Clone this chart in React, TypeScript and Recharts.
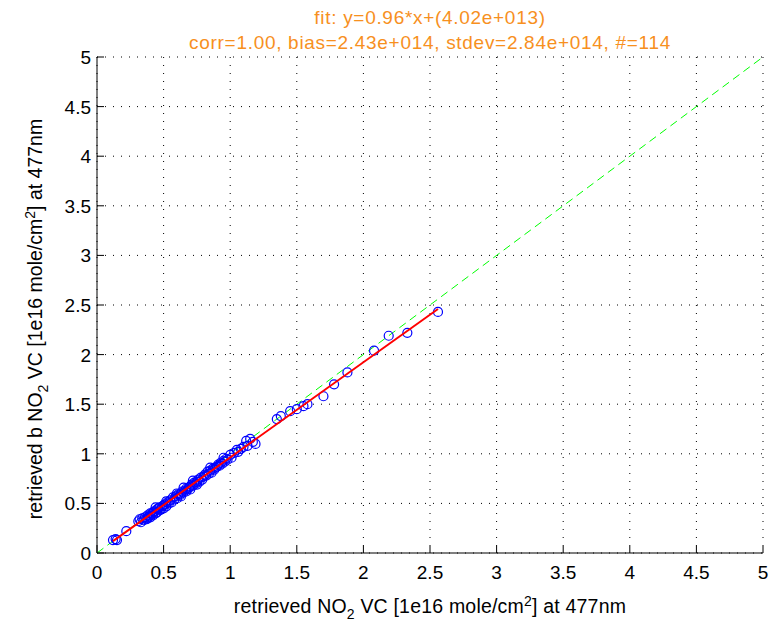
import { ScatterChart, Scatter, XAxis, YAxis, CartesianGrid, Label } from "recharts";

const ticks = [0, 0.5, 1, 1.5, 2, 2.5, 3, 3.5, 4, 4.5, 5];

const fitText = "fit: y=0.96*x+(4.02e+013)";
const statsText = "corr=1.00, bias=2.43e+014, stdev=2.84e+014, #=114";

// retrieved NO2 VC (x) vs retrieved b NO2 VC (y), in 1e16 mole/cm2
const points = [
  { x: 0.12, y: 0.13 }, { x: 0.14, y: 0.14 }, { x: 0.15, y: 0.13 }, { x: 0.22, y: 0.22 },
  { x: 0.31, y: 0.32 }, { x: 0.32, y: 0.34 }, { x: 0.33, y: 0.31 }, { x: 0.34, y: 0.35 },
  { x: 0.35, y: 0.33 }, { x: 0.36, y: 0.36 }, { x: 0.37, y: 0.34 }, { x: 0.38, y: 0.38 },
  { x: 0.38, y: 0.35 }, { x: 0.39, y: 0.37 }, { x: 0.4, y: 0.4 }, { x: 0.4, y: 0.36 },
  { x: 0.41, y: 0.39 }, { x: 0.42, y: 0.41 }, { x: 0.42, y: 0.38 }, { x: 0.43, y: 0.42 },
  { x: 0.44, y: 0.4 }, { x: 0.45, y: 0.44 }, { x: 0.45, y: 0.41 }, { x: 0.46, y: 0.45 },
  { x: 0.47, y: 0.43 }, { x: 0.47, y: 0.46 }, { x: 0.48, y: 0.44 }, { x: 0.49, y: 0.47 },
  { x: 0.5, y: 0.48 }, { x: 0.5, y: 0.45 }, { x: 0.51, y: 0.49 }, { x: 0.52, y: 0.47 },
  { x: 0.53, y: 0.51 }, { x: 0.54, y: 0.5 }, { x: 0.55, y: 0.53 }, { x: 0.56, y: 0.51 },
  { x: 0.57, y: 0.56 }, { x: 0.58, y: 0.54 }, { x: 0.59, y: 0.57 }, { x: 0.6, y: 0.55 },
  { x: 0.61, y: 0.59 }, { x: 0.62, y: 0.58 }, { x: 0.63, y: 0.6 }, { x: 0.63, y: 0.57 },
  { x: 0.64, y: 0.62 }, { x: 0.65, y: 0.61 }, { x: 0.66, y: 0.63 }, { x: 0.67, y: 0.62 },
  { x: 0.67, y: 0.65 }, { x: 0.68, y: 0.64 }, { x: 0.69, y: 0.66 }, { x: 0.7, y: 0.67 },
  { x: 0.7, y: 0.64 }, { x: 0.71, y: 0.69 }, { x: 0.72, y: 0.68 }, { x: 0.73, y: 0.71 },
  { x: 0.74, y: 0.7 }, { x: 0.75, y: 0.72 }, { x: 0.75, y: 0.69 }, { x: 0.76, y: 0.74 },
  { x: 0.77, y: 0.72 }, { x: 0.78, y: 0.76 }, { x: 0.79, y: 0.74 }, { x: 0.8, y: 0.77 },
  { x: 0.81, y: 0.79 }, { x: 0.82, y: 0.78 }, { x: 0.83, y: 0.82 }, { x: 0.84, y: 0.8 },
  { x: 0.85, y: 0.83 }, { x: 0.86, y: 0.81 }, { x: 0.87, y: 0.85 }, { x: 0.88, y: 0.84 },
  { x: 0.89, y: 0.86 }, { x: 0.9, y: 0.87 }, { x: 0.91, y: 0.89 }, { x: 0.92, y: 0.88 },
  { x: 0.93, y: 0.91 }, { x: 0.94, y: 0.9 }, { x: 0.95, y: 0.93 }, { x: 0.96, y: 0.92 },
  { x: 0.97, y: 0.95 }, { x: 0.98, y: 0.94 }, { x: 1.0, y: 0.99 }, { x: 1.01, y: 0.96 },
  { x: 1.03, y: 1.01 }, { x: 1.05, y: 1.04 }, { x: 1.06, y: 1.02 }, { x: 1.08, y: 1.05 },
  { x: 1.1, y: 1.07 }, { x: 1.12, y: 1.13 }, { x: 1.13, y: 1.08 }, { x: 1.15, y: 1.15 },
  { x: 1.17, y: 1.12 }, { x: 1.19, y: 1.1 }, { x: 1.35, y: 1.35 }, { x: 1.38, y: 1.38 },
  { x: 1.45, y: 1.43 }, { x: 1.5, y: 1.45 }, { x: 1.55, y: 1.48 }, { x: 1.58, y: 1.5 },
  { x: 1.7, y: 1.58 }, { x: 1.78, y: 1.7 }, { x: 1.88, y: 1.82 }, { x: 2.08, y: 2.04 },
  { x: 2.19, y: 2.19 }, { x: 2.33, y: 2.22 }, { x: 2.56, y: 2.43 }, { x: 0.44, y: 0.46 },
  { x: 0.52, y: 0.52 }, { x: 0.6, y: 0.6 }, { x: 0.72, y: 0.73 }, { x: 0.85, y: 0.86 },
  { x: 0.95, y: 0.96 }, { x: 0.65, y: 0.66 },
];

const fitLine = [
  { x: 0.12, y: 0.12 },
  { x: 2.56, y: 2.46 },
];

const oneToOne = [
  { x: 0, y: 0 },
  { x: 5, y: 5 },
];

const font = "'Liberation Sans', Arial, sans-serif";
const TICK_LEN = 7;

const Ring = (props: any) => (
  <circle cx={props.cx} cy={props.cy} r={4.5} fill="none" stroke="#0000ff" strokeWidth={1.2} />
);

const BottomTick = ({ x, y, payload }: any) => (
  <g>
    <line x1={x} x2={x} y1={y} y2={y - TICK_LEN} stroke="#000" />
    <text x={x} y={y + 26} textAnchor="middle" fontSize={19} fontFamily={font} fill="#000">
      {payload.value}
    </text>
  </g>
);

const TopTick = ({ x, y }: any) => <line x1={x} x2={x} y1={y} y2={y + TICK_LEN} stroke="#000" />;

const LeftTick = ({ x, y, payload }: any) => (
  <g>
    <line x1={x} x2={x + TICK_LEN} y1={y} y2={y} stroke="#000" />
    <text x={x - 6} y={y + 7} textAnchor="end" fontSize={19} fontFamily={font} fill="#000">
      {payload.value}
    </text>
  </g>
);

const RightTick = ({ x, y }: any) => <line x1={x} x2={x - TICK_LEN} y1={y} y2={y} stroke="#000" />;

const XTitle = (props: any) => {
  const { viewBox } = props;
  const cx = viewBox.x + viewBox.width / 2;
  return (
    <text x={cx} y={613} textAnchor="middle" fontSize={19.5} fontFamily={font} fill="#000" letterSpacing={0.2}>
      retrieved NO<tspan dy={6} fontSize={14}>2</tspan>
      <tspan dy={-6}> VC [1e16 mole/cm</tspan>
      <tspan dy={-7} fontSize={14}>2</tspan>
      <tspan dy={7}>] at 477nm</tspan>
    </text>
  );
};

const YTitle = (props: any) => {
  const { viewBox } = props;
  const cy = viewBox.y + viewBox.height / 2 + 14;
  const x = 42;
  return (
    <text x={x} y={cy} textAnchor="middle" fontSize={19.5} fontFamily={font} fill="#000" transform={`rotate(-90 ${x} ${cy})`}>
      retrieved b NO<tspan dy={6} fontSize={14}>2</tspan>
      <tspan dy={-6}> VC [1e16 mole/cm</tspan>
      <tspan dy={-7} fontSize={14}>2</tspan>
      <tspan dy={7}>] at 477nm</tspan>
    </text>
  );
};

export default function App() {
  return (
    <div style={{ position: "absolute", left: 0, top: 0, width: 778, height: 623, background: "#fff", fontFamily: font }}>
      <div style={{ position: "absolute", left: 97, width: 666, top: 5, textAlign: "center", color: "#f7901e", fontSize: 19, lineHeight: "25px", letterSpacing: 0.7 }}>
        <div>{fitText}</div>
        <div>{statsText}</div>
      </div>
      <ScatterChart width={778} height={623} margin={{ top: 57, right: 15, bottom: 40, left: 47 }}>
        <CartesianGrid stroke="#000" strokeDasharray="1 7" />
        <XAxis
          type="number"
          dataKey="x"
          domain={[0, 5]}
          ticks={ticks}
          height={30}
          stroke="#000"
          tickLine={false}
          tickSize={0}
          tickMargin={0}
          tick={<BottomTick />}
        >
          <Label content={<XTitle />} />
        </XAxis>
        <XAxis
          xAxisId="top"
          orientation="top"
          type="number"
          domain={[0, 5]}
          ticks={ticks}
          height={0}
          stroke="#000"
          tickLine={false}
          tickSize={0}
          tickMargin={0}
          tick={<TopTick />}
        />
        <YAxis
          type="number"
          dataKey="y"
          domain={[0, 5]}
          ticks={ticks}
          width={50}
          stroke="#000"
          tickLine={false}
          tickSize={0}
          tickMargin={0}
          tick={<LeftTick />}
        >
          <Label content={<YTitle />} />
        </YAxis>
        <YAxis
          yAxisId="right"
          orientation="right"
          type="number"
          domain={[0, 5]}
          ticks={ticks}
          width={0}
          stroke="#000"
          tickLine={false}
          tickSize={0}
          tickMargin={0}
          tick={<RightTick />}
        />
        <Scatter data={oneToOne} line={{ stroke: "#00ff00", strokeDasharray: "8 5", strokeWidth: 1 }} shape={() => <g />} isAnimationActive={false} />
        <Scatter data={points} shape={<Ring />} isAnimationActive={false} />
        <Scatter data={fitLine} line={{ stroke: "#ff0000", strokeWidth: 2 }} shape={() => <g />} isAnimationActive={false} />
      </ScatterChart>
    </div>
  );
}
